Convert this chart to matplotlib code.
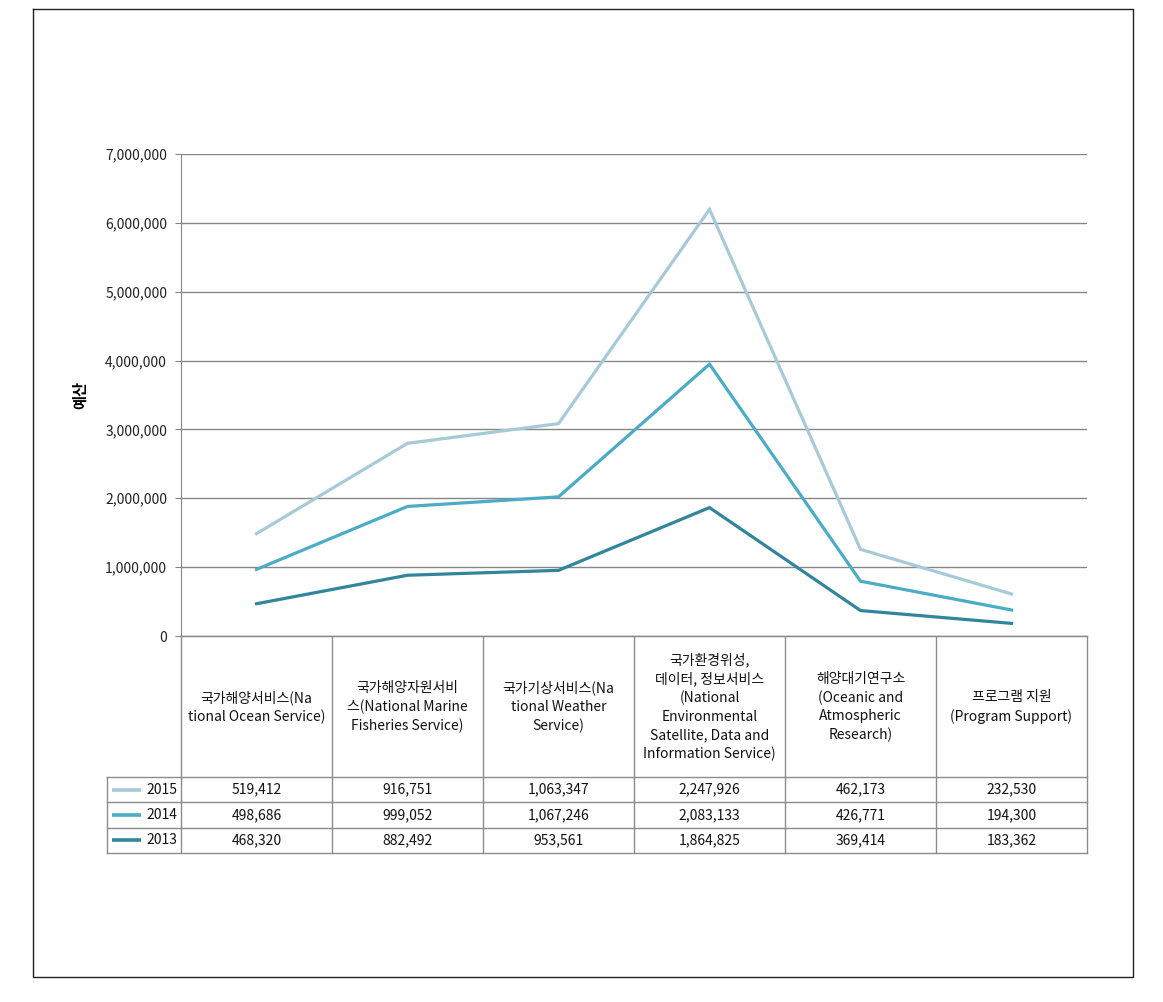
import numpy as np
import matplotlib.pyplot as plt
from matplotlib.ticker import FuncFormatter, MultipleLocator

plt.rcParams['font.family'] = ['Noto Sans CJK KR', 'DejaVu Sans']

categories = [
    '국가해양서비스(Na\ntional Ocean Service)',
    '국가해양자원서비\n스(National Marine\nFisheries Service)',
    '국가기상서비스(Na\ntional Weather\nService)',
    '국가환경위성,\n데이터, 정보서비스\n(National\nEnvironmental\nSatellite, Data and\nInformation Service)',
    '해양대기연구소\n(Oceanic and\nAtmospheric\nResearch)',
    '프로그램 지원\n(Program Support)',
]
years = ['2015', '2014', '2013']
v2015 = [519412, 916751, 1063347, 2247926, 462173, 232530]
v2014 = [498686, 999052, 1067246, 2083133, 426771, 194300]
v2013 = [468320, 882492, 953561, 1864825, 369414, 183362]
colors = {'2015': '#a7cad8', '2014': '#4aacc5', '2013': '#31859c'}

W, H = 1163, 1002
fig = plt.figure(figsize=(W / 100, H / 100), dpi=100)

# overlay in pixel coordinates for frame and table
ov = fig.add_axes([0, 0, 1, 1])
ov.set_xlim(0, W)
ov.set_ylim(H, 0)
ov.axis('off')

# plot area
x0, x1, ytop, ybot = 181, 1087, 154, 636
ax = fig.add_axes([x0 / W, 1 - ybot / H, (x1 - x0) / W, (ybot - ytop) / H])

x = np.arange(len(categories))
s2013 = np.array(v2013)
s2014 = s2013 + np.array(v2014)
s2015 = s2014 + np.array(v2015)
stacked = {'2013': s2013, '2014': s2014, '2015': s2015}
for yr in ['2015', '2014', '2013']:
    ax.plot(x, stacked[yr], color=colors[yr], lw=2.3, solid_joinstyle='miter', zorder=3)

ax.set_xlim(-0.5, len(categories) - 0.5)
ax.set_ylim(0, 7000000)
ax.yaxis.set_major_locator(MultipleLocator(1000000))
ax.yaxis.set_major_formatter(FuncFormatter(lambda v, p: f'{int(v):,}'))
ax.grid(axis='y', color='#878787', lw=1)
ax.axhline(0, color='#878787', lw=1, clip_on=False)
ax.set_axisbelow(True)
ax.set_xticks([])
for s in ['top', 'right', 'bottom']:
    ax.spines[s].set_visible(False)
ax.spines['left'].set_color('#878787')
ax.tick_params(axis='y', length=4, color='#878787', labelsize=10, pad=6, labelcolor='#222222')
ax.set_ylabel('예산', fontsize=11, fontweight='bold', labelpad=12)

# outer frame
ov.plot([33, 1133, 1133, 33, 33], [9, 9, 977, 977, 9], color='#222222', lw=1)

# table
gc = '#8c8c8c'
col_w = (x1 - x0) / len(categories)
hdr_bot = 777
row_h = 25.3
tab_bot = hdr_bot + row_h * 3
leg_left = 107
for i in range(len(categories) + 1):
    xx = x0 + i * col_w
    ov.plot([xx, xx], [ybot, tab_bot], color=gc, lw=1)
ov.plot([leg_left, leg_left], [hdr_bot, tab_bot], color=gc, lw=1)
for j in range(4):
    yy = hdr_bot + j * row_h
    ov.plot([leg_left, x1], [yy, yy], color=gc, lw=1)

for i, c in enumerate(categories):
    ov.text(x0 + (i + 0.5) * col_w, 707, c, ha='center', va='center',
            fontsize=10, linespacing=1.4, color='#111111')

rows = {'2015': v2015, '2014': v2014, '2013': v2013}
for j, yr in enumerate(years):
    yc = hdr_bot + (j + 0.5) * row_h
    ov.plot([112, 141], [yc, yc], color=colors[yr], lw=2.6, solid_capstyle='butt')
    ov.text(177, yc, yr, ha='right', va='center', fontsize=10, color='#111111')
    for i, v in enumerate(rows[yr]):
        ov.text(x0 + (i + 0.5) * col_w, yc, f'{v:,}', ha='center', va='center',
                fontsize=10, color='#111111')

fig.savefig('out.png', dpi=100)
